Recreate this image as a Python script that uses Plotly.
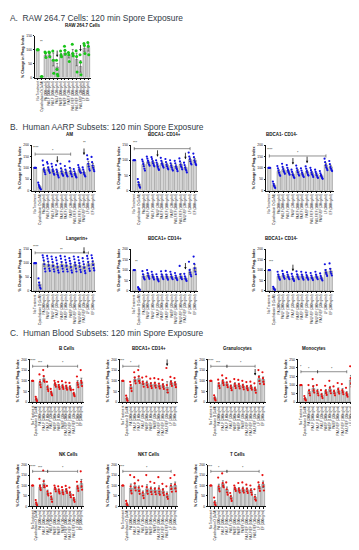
import plotly.graph_objects as go

W, H = 359, 550
FONT = "Liberation Sans, Arial, sans-serif"

cats = ["No Treatment", "Cytochalasin D (5uM)", "PA (300ng/ml)", "PA/LF (300ng/ml)",
        "PA/LF (100ng/ml)", "PA/LF (30ng/ml)", "PA/EF (300ng/ml)", "PA/EF (100ng/ml)",
        "PA/EF (30ng/ml)", "PA/LF/EF (300ng/ml)", "PA/LF/EF (100ng/ml)",
        "PA/LF/EF (30ng/ml)", "LF (300ng/ml)", "EF (300ng/ml)"]

# ---------------- Section A ----------------
raw_mean = [100, 3, 80, 82, 65, 38, 80, 88, 80, 88, 65, 40, 105, 108]
raw_pts = [[100, 100, 100], [2, 4, 3], [92, 88, 72], [92, 90, 75], [95, 62, 15],
           [62, 30, 12, 5], [95, 82, 75], [112, 98, 85], [90, 82, 58], [120, 86, 78],
           [96, 76, 20], [82, 55, 10], [122, 115, 86], [126, 112, 82]]

# ---------------- Section B (AARP subsets) ----------------
am_mean = [100, 18, 92, 96, 88, 80, 86, 82, 86, 75, 92, 80, 118, 110]
am_pts = [[100, 100, 100, 100], [35, 25, 18, 12, 8, 5], [132, 112, 95, 88, 80, 72],
          [125, 118, 102, 92, 85, 78], [118, 105, 92, 85, 75, 70], [112, 92, 82, 72, 65, 58],
          [118, 98, 85, 75, 70, 65], [108, 92, 80, 72, 66, 62], [128, 100, 85, 76, 70, 62],
          [95, 85, 75, 68, 62, 58], [112, 102, 92, 85, 80, 78], [102, 92, 80, 72, 66, 62],
          [155, 138, 118, 105, 95, 88], [148, 125, 110, 100, 92, 85]]

bm_p_mean = [100, 22, 86, 95, 94, 84, 90, 85, 82, 80, 86, 76, 102, 100]
bm_p_pts = [[100, 100, 100, 100], [38, 28, 20, 14, 10], [102, 96, 88, 80, 72, 66],
            [112, 105, 98, 92, 86, 82], [110, 104, 96, 90, 84, 80], [100, 92, 85, 78, 72, 68],
            [108, 98, 90, 84, 80, 76], [104, 94, 86, 80, 74, 70], [100, 90, 82, 76, 70, 66],
            [98, 90, 80, 74, 70, 64], [106, 96, 86, 80, 76, 70], [92, 84, 76, 70, 66, 60],
            [125, 112, 104, 96, 90, 86], [122, 110, 100, 94, 88, 84]]

bm_n_mean = [100, 25, 85, 92, 88, 72, 86, 76, 84, 78, 72, 66, 112, 104]
bm_n_pts = [[100, 100, 100, 100], [40, 30, 22, 16, 12], [108, 98, 88, 78, 70, 65],
            [118, 104, 95, 86, 80, 74], [112, 100, 90, 82, 76, 70], [92, 82, 72, 66, 60, 56],
            [110, 98, 88, 80, 72, 66], [98, 88, 78, 70, 64, 60], [106, 96, 86, 78, 70, 66],
            [100, 90, 80, 72, 66, 60], [92, 82, 74, 66, 60, 56], [86, 76, 68, 62, 56, 52],
            [140, 125, 112, 102, 96, 90], [130, 116, 104, 96, 90, 86]]

lang_mean = [100, 25, 98, 96, 94, 90, 96, 94, 90, 95, 92, 88, 98, 100]
lang_pts = [[100, 100, 100, 100], [45, 30, 20, 12, 8], [128, 120, 110, 96, 80, 70],
            [126, 116, 106, 92, 80, 72], [124, 114, 104, 90, 78, 70], [120, 110, 98, 86, 74, 66],
            [126, 116, 104, 90, 80, 70], [124, 112, 102, 90, 78, 70], [118, 108, 98, 86, 74, 66],
            [124, 114, 102, 92, 80, 70], [122, 110, 100, 88, 76, 68], [118, 106, 96, 84, 72, 64],
            [126, 116, 104, 92, 80, 72], [128, 118, 106, 94, 82, 74]]

bp_p_mean = [100, 10, 72, 76, 70, 60, 72, 70, 70, 66, 72, 62, 92, 112]
bp_p_pts = [[100, 100, 100], [18, 12, 8, 5], [95, 80, 68, 60, 55], [100, 85, 74, 66, 58],
            [92, 78, 68, 62, 55], [80, 68, 58, 52, 46], [94, 80, 70, 62, 56], [96, 78, 68, 60, 54],
            [92, 80, 68, 62, 56], [86, 74, 64, 58, 52], [120, 80, 68, 62, 56], [82, 70, 60, 54, 48],
            [140, 100, 88, 78, 70], [165, 130, 108, 92, 80]]

bp_n_mean = [100, 12, 70, 74, 70, 62, 72, 70, 68, 66, 70, 64, 92, 96]
bp_n_pts = [[100, 100, 100], [20, 12, 8, 5], [92, 78, 68, 60, 54], [96, 82, 72, 64, 58],
            [90, 78, 68, 62, 56], [82, 70, 60, 54, 48], [94, 80, 70, 62, 56], [92, 78, 68, 60, 54],
            [88, 76, 66, 60, 54], [86, 74, 64, 58, 52], [92, 78, 68, 62, 56], [84, 72, 62, 56, 50],
            [128, 100, 88, 80, 72], [132, 106, 92, 82, 74]]

# ---------------- Section C (blood subsets) ----------------
bc_mean = [100, 15, 92, 110, 70, 45, 85, 76, 76, 72, 70, 40, 90, 96]
bc_pts = [[100, 100, 100], [25, 15, 8, 5], [130, 95, 82, 70], [150, 122, 102, 95],
          [95, 72, 60, 52], [62, 48, 38, 32], [100, 88, 80, 72], [95, 80, 70, 62],
          [98, 78, 70, 62], [92, 76, 66, 58], [90, 72, 62, 56], [58, 42, 34, 28],
          [120, 92, 82, 70], [150, 100, 90, 75]]

cp_mean = [100, 18, 72, 106, 110, 90, 88, 82, 84, 80, 78, 70, 92, 88]
cp_pts = [[100, 100, 100], [30, 18, 10, 6], [95, 80, 64, 52], [140, 115, 100, 88],
          [150, 120, 100, 90], [115, 95, 85, 72], [120, 92, 80, 70], [110, 88, 76, 66],
          [112, 90, 78, 68], [108, 86, 74, 64], [104, 82, 72, 62], [160, 80, 58, 45],
          [118, 96, 86, 76], [112, 92, 82, 70]]

gr_mean = [100, 20, 82, 96, 86, 72, 82, 80, 76, 70, 72, 62, 110, 106]
gr_pts = [[100, 100, 100], [32, 20, 12, 8], [105, 88, 76, 66], [125, 100, 90, 80],
          [112, 92, 80, 70], [96, 76, 66, 56], [108, 86, 76, 66], [104, 84, 74, 64],
          [100, 80, 70, 60], [94, 74, 64, 56], [96, 76, 66, 58], [88, 66, 56, 44],
          [150, 118, 100, 86], [140, 112, 96, 84]]

mo_mean = [100, 22, 62, 80, 62, 42, 62, 76, 60, 70, 66, 50, 130, 136]
mo_pts = [[100, 100, 100], [36, 22, 14, 10], [100, 68, 52, 40], [135, 92, 70, 56],
          [100, 66, 52, 40], [70, 46, 34, 24], [96, 66, 54, 42], [125, 84, 66, 52],
          [92, 64, 52, 40], [112, 76, 62, 50], [106, 70, 58, 46], [84, 54, 42, 32],
          [210, 140, 110, 90], [220, 150, 116, 96]]

nk_mean = [100, 15, 92, 108, 68, 42, 86, 76, 72, 78, 62, 36, 92, 110]
nk_pts = [[100, 100, 100], [30, 18, 10, 5], [132, 98, 88, 78], [172, 120, 100, 92],
          [98, 72, 60, 52], [62, 46, 34, 22], [100, 90, 82, 72], [96, 80, 70, 62],
          [92, 78, 66, 58], [98, 82, 72, 64], [90, 66, 54, 44], [54, 40, 30, 22],
          [118, 96, 86, 74], [168, 118, 96, 80]]

nkt_mean = [100, 12, 88, 98, 84, 62, 84, 80, 78, 80, 74, 56, 95, 100]
nkt_pts = [[100, 100, 100], [26, 14, 8, 4], [150, 96, 76, 62], [140, 110, 90, 76],
           [125, 90, 74, 60], [96, 66, 52, 40], [150, 92, 74, 60], [118, 86, 70, 58],
           [112, 84, 70, 58], [140, 86, 70, 56], [108, 80, 66, 54], [96, 60, 46, 36],
           [136, 100, 84, 70], [150, 106, 86, 72]]

tc_mean = [100, 20, 92, 108, 80, 45, 86, 80, 82, 80, 76, 45, 96, 106]
tc_pts = [[100, 100, 100], [42, 20, 10, 5], [138, 96, 84, 72], [158, 112, 100, 92],
          [115, 82, 66, 56], [64, 48, 36, 26], [100, 90, 82, 74], [112, 84, 76, 66],
          [115, 86, 76, 66], [104, 84, 72, 64], [100, 78, 66, 56], [82, 46, 34, 28],
          [115, 96, 86, 74], [150, 112, 96, 76]]

# significance text: (x, y, text); brackets: (x0, x1, y, label); arrows: (x, y, label)
panels = [
    dict(title="RAW 264.7 Cells", box=(27, 83, 26, 68), ymax=150, mean=raw_mean, pts=raw_pts,
         color="#19c419", msize=3.0, stars=[(0.9, 112, "**")], brackets=[],
         arrows=[(5, 70, ""), (11, 90, "")]),
    dict(title="AM", box=(24, 88, 136, 182), ymax=200, mean=am_mean, pts=am_pts, color="#1010e0",
         stars=[(0.2, 168, "****")], brackets=[(0, 8, 160, "*")], arrows=[(5, 118, ""), (11, 152, "**")]),
    dict(title="BDCA1- CD14+", box=(123, 190, 136, 182), ymax=150, mean=bm_p_mean, pts=bm_p_pts,
         color="#1010e0", stars=[(0.2, 142, "***")], brackets=[(0, 12, 138, "")],
         arrows=[(5, 108, ""), (11, 100, "")]),
    dict(title="BDCA1- CD14-", box=(258, 326, 136, 182), ymax=200, mean=bm_n_mean, pts=bm_n_pts,
         color="#1010e0", stars=[(0.2, 160, "****")], brackets=[(0, 12, 152, "*")],
         arrows=[(5, 110, ""), (8, 116, "")]),
    dict(title="Langerin+", box=(24, 88, 241, 283), ymax=150, mean=lang_mean, pts=lang_pts,
         color="#1010e0", stars=[(0.2, 142, "****")], brackets=[(0, 12, 137, "**")],
         arrows=[(11, 130, "")]),
    dict(title="BDCA1+ CD14+", box=(123, 190, 241, 283), ymax=200, mean=bp_p_mean, pts=bp_p_pts,
         color="#1010e0", stars=[(0.5, 118, "**")], brackets=[], arrows=[(11, 98, "")]),
    dict(title="BDCA1+ CD14-", box=(258, 326, 241, 283), ymax=200, mean=bp_n_mean, pts=bp_n_pts,
         color="#1010e0", stars=[(0.5, 118, "***")], brackets=[], arrows=[(5, 90, "")]),
    dict(title="B Cells", box=(22, 76, 352, 395), ymax=200, mean=bc_mean, pts=bc_pts, color="#e81010",
         stars=[(0.0, 172, "****")], brackets=[(0, 4, 168, "***"), (4, 12, 168, "*")], arrows=[]),
    dict(title="BDCA1+ CD14+", box=(112, 170, 352, 395), ymax=200, mean=cp_mean, pts=cp_pts,
         color="#e81010", stars=[(0.0, 172, "***")], brackets=[(0, 4, 168, "*")], arrows=[(11, 165, "")]),
    dict(title="Granulocytes", box=(200, 258, 352, 395), ymax=200, mean=gr_mean, pts=gr_pts,
         color="#e81010", stars=[(0.0, 172, "****")], brackets=[(0, 4, 168, "***"), (4, 11, 168, "*")],
         arrows=[(11, 120, "")]),
    dict(title="Monocytes", box=(290, 350, 352, 395), ymax=250, mean=mo_mean, pts=mo_pts,
         color="#e81010", stars=[(0.0, 182, "*")], brackets=[(0, 4, 178, "*"), (4, 11, 178, "*")],
         arrows=[]),
    dict(title="NK Cells", box=(22, 76, 458, 500), ymax=200, mean=nk_mean, pts=nk_pts, color="#e81010",
         stars=[(0.0, 172, "****")], brackets=[(0, 4, 168, "***"), (4, 12, 168, "*")], arrows=[]),
    dict(title="NKT Cells", box=(112, 170, 458, 500), ymax=200, mean=nkt_mean, pts=nkt_pts,
         color="#e81010", stars=[(0.0, 172, "***")], brackets=[(0, 12, 168, "*")], arrows=[]),
    dict(title="T Cells", box=(200, 258, 458, 500), ymax=200, mean=tc_mean, pts=tc_pts,
         color="#e81010", stars=[(0.0, 172, "***")], brackets=[(0, 4, 168, "*"), (4, 12, 168, "*")],
         arrows=[]),
]

sections = [("A.", "RAW 264.7 Cells: 120 min Spore Exposure", 8),
            ("B.", "Human AARP Subsets: 120 min Spore Exposure", 118),
            ("C.", "Human Blood Subsets: 120 min Spore Exposure", 325)]

fig = go.Figure()
annotations = []
layout = {}
xs = list(range(len(cats)))

for i, p in enumerate(panels):
    n = i + 1
    xa = "x" if n == 1 else f"x{n}"
    ya = "y" if n == 1 else f"y{n}"
    x0, x1, yt, yb = p["box"]
    sem = []
    for vals in p["pts"]:
        m = sum(vals) / len(vals)
        sd = (sum((v - m) ** 2 for v in vals) / max(len(vals) - 1, 1)) ** 0.5
        sem.append(sd / len(vals) ** 0.5)
    fig.add_trace(go.Bar(x=xs, y=p["mean"], xaxis=xa, yaxis=ya, width=0.72,
                         marker=dict(color="#d6d6d6", line=dict(color="#555555", width=0.4)),
                         error_y=dict(type="data", array=sem, color="#222222", thickness=0.5, width=1),
                         showlegend=False, hoverinfo="skip"))
    px, py = [], []
    for k, vals in enumerate(p["pts"]):
        m = len(vals)
        for j, v in enumerate(vals):
            px.append(k + (j - (m - 1) / 2) * 0.12)
            py.append(v)
    fig.add_trace(go.Scatter(x=px, y=py, xaxis=xa, yaxis=ya, mode="markers",
                             marker=dict(color=p["color"], size=p.get("msize", 2.2), symbol="circle"),
                             showlegend=False, hoverinfo="skip"))
    for (b0, b1, by, lab) in p["brackets"]:
        tick = p["ymax"] * 0.035
        fig.add_trace(go.Scatter(x=[b0, b0, None, b0, b1, None, b1, b1],
                                 y=[by - tick, by + tick, None, by, by, None, by - tick, by + tick],
                                 xaxis=xa, yaxis=ya, mode="lines",
                                 line=dict(color="#222222", width=0.5), showlegend=False,
                                 hoverinfo="skip"))
        if lab:
            annotations.append(dict(x=(b0 + b1) / 2, y=by, xref=xa, yref=ya, text=lab,
                                    showarrow=False, yanchor="bottom", yshift=-1,
                                    font=dict(size=3.5, color="#222222", family=FONT)))
    for (sx, sy, st) in p["stars"]:
        annotations.append(dict(x=sx, y=sy, xref=xa, yref=ya, text=st, showarrow=False,
                                yanchor="bottom", font=dict(size=3.5, color="#222222", family=FONT)))
    for (ax_, ay_, lab) in p["arrows"]:
        annotations.append(dict(x=ax_, y=ay_, xref=xa, yref=ya, text="", showarrow=True,
                                arrowhead=2, arrowsize=0.6, arrowwidth=0.8, arrowcolor="#111111",
                                ax=0, ay=-9, standoff=1))
        if lab:
            annotations.append(dict(x=ax_, y=ay_, xref=xa, yref=ya, text=lab, showarrow=False,
                                    yanchor="bottom", yshift=9,
                                    font=dict(size=3.5, color="#222222", family=FONT)))
    layout["xaxis" if n == 1 else f"xaxis{n}"] = dict(
        domain=[x0 / W, x1 / W], anchor=ya, range=[-0.7, len(cats) - 0.3],
        tickmode="array", tickvals=xs, ticktext=cats, tickangle=-90,
        tickfont=dict(size=3.2, color="#111111", family=FONT),
        ticks="outside", ticklen=1.5, tickwidth=0.5, tickcolor="#111111",
        showline=True, linecolor="#111111", linewidth=0.6, showgrid=False, zeroline=False)
    layout["yaxis" if n == 1 else f"yaxis{n}"] = dict(
        domain=[1 - yb / H, 1 - yt / H], anchor=xa, range=[0, p["ymax"]], dtick=50,
        tickfont=dict(size=3.4, color="#111111", family=FONT),
        ticks="outside", ticklen=1.5, tickwidth=0.5, tickcolor="#111111",
        showline=True, linecolor="#111111", linewidth=0.6, showgrid=False, zeroline=False,
        title=dict(text="<b>% Change in Phag. Index</b>", standoff=2,
                   font=dict(size=3.6, color="#111111", family=FONT)))
    annotations.append(dict(x=(x0 + x1) / 2 / W, y=1 - (yt - 6) / H, xref="paper", yref="paper",
                            text=f"<b>{p['title']}</b>", showarrow=False, yanchor="bottom",
                            font=dict(size=4.5, color="#111111", family=FONT)))

for (letter, txt, ypx) in sections:
    annotations.append(dict(x=0, y=1 - ypx / H, xref="paper", yref="paper",
                            text=f"{letter}  {txt}", showarrow=False, xanchor="left", yanchor="middle",
                            font=dict(size=8.4, color="#333d48", family=FONT)))

fig.update_layout(width=W, height=H, margin=dict(l=0, r=0, t=0, b=0),
                  paper_bgcolor="white", plot_bgcolor="white", bargap=0.2,
                  annotations=annotations, **layout)
fig.write_html("out.html")
